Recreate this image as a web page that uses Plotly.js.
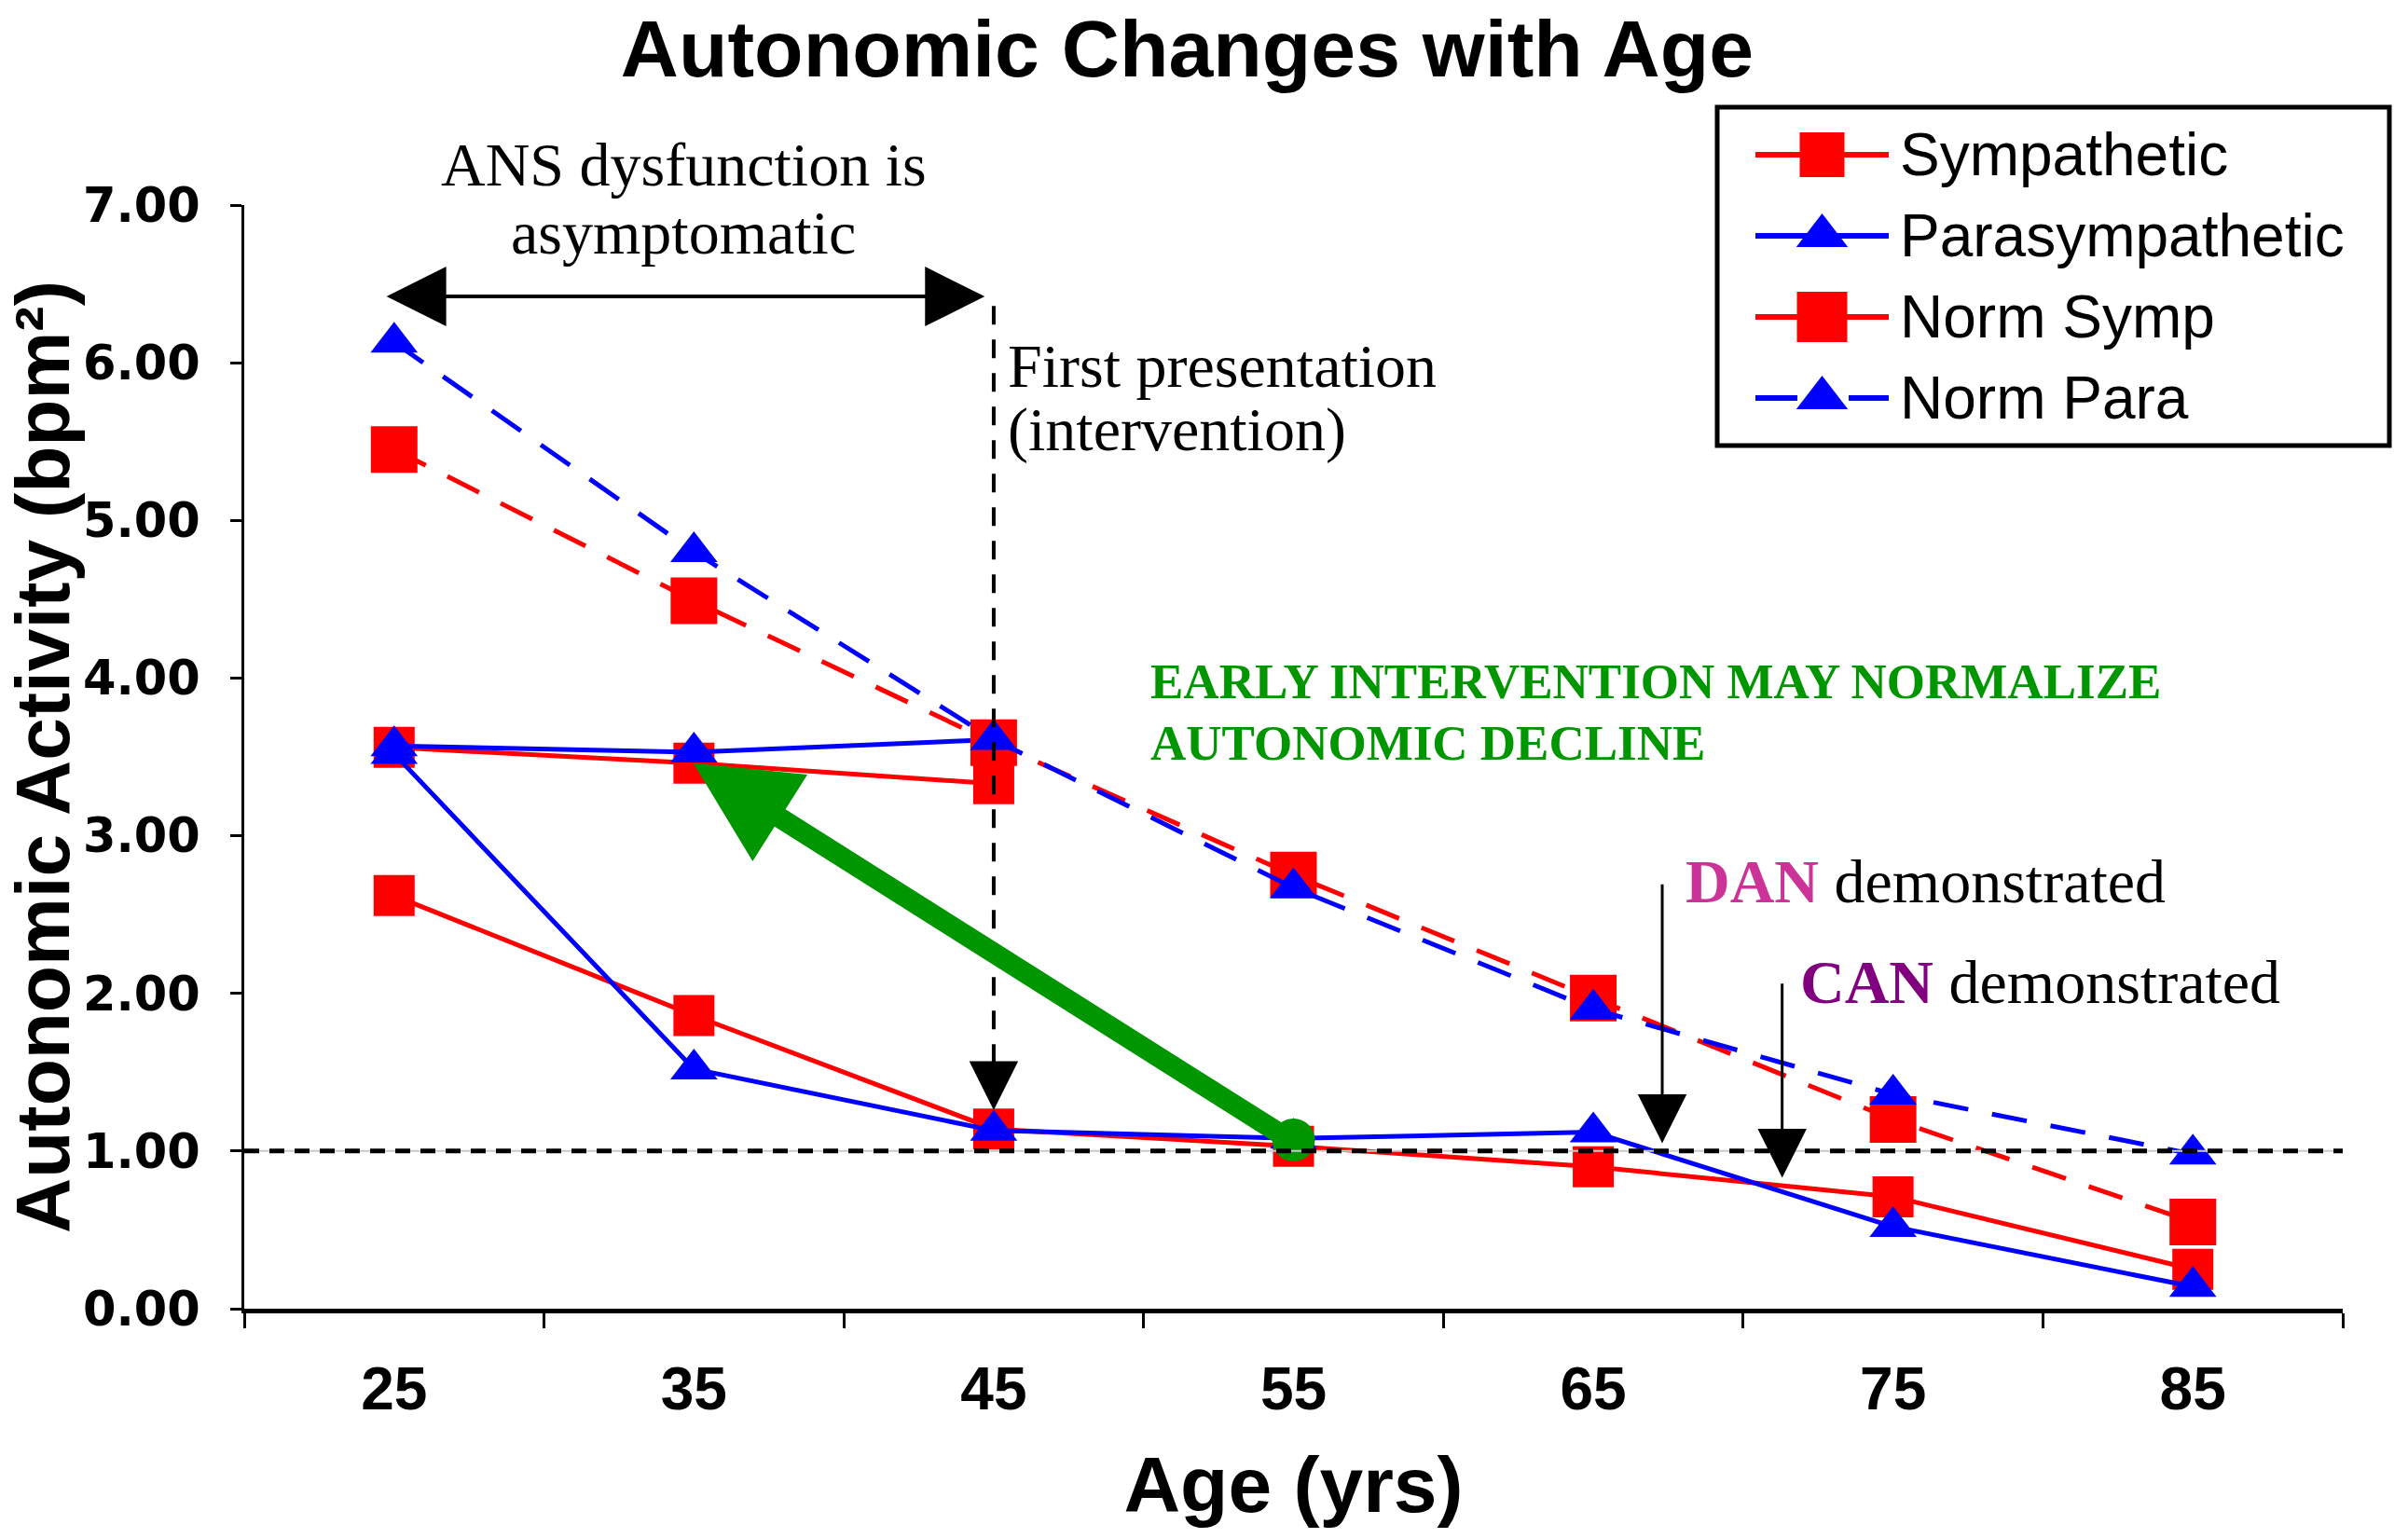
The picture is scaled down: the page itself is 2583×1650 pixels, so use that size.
<!DOCTYPE html>
<html><head><meta charset="utf-8">
<script src="https://cdn.plot.ly/plotly-3.0.1.min.js"></script>
<style>html,body{margin:0;padding:0;background:#fff}</style>
</head><body><div id="chart" style="width:2583px;height:1650px"></div>
<script>
// ---- data ----
const ages = [25, 35, 45, 55, 65, 75, 85];
const agesEarly = [25, 35, 45];
const sympEarly = [3.56, 3.46, 3.33];
const sympValues = [2.62, 1.86, 1.14, 1.03, 0.90, 0.71, 0.25];
const paraEarly = [3.57, 3.53, 3.61];
const paraValues = [3.52, 1.52, 1.13, 1.08, 1.12, 0.52, 0.14];
const normSymp = [5.45, 4.49, 3.59, 2.75, 1.97, 1.20, 0.55];
const normPara = [6.13, 4.80, 3.61, 2.67, 1.90, 1.36, 0.98];
const interventionAge = [55];
const interventionValue = [1.07];
const seriesNames = ['Sympathetic', 'Parasympathetic', 'Norm Symp', 'Norm Para'];
const xTickVals = [25, 35, 45, 55, 65, 75, 85];
const xTickText = ['25', '35', '45', '55', '65', '75', '85'];
const xTickMarks = [20, 30, 40, 50, 60, 70, 80, 90];
const yTickVals = [0, 1, 2, 3, 4, 5, 6, 7];
const yTickText = ['0.00', '1.00', '2.00', '3.00', '4.00', '5.00', '6.00', '7.00'];

// ---- styles ----
const RED = '#ff0000', BLUE = '#0000ff', GREEN = 'rgb(0,150,0)';
const SERIF = 'Liberation Serif', SANS = 'Liberation Sans';
const W = 2583, H = 1650;
const plotL = 262, plotR = 2513, plotT = 220, plotB = 1404;

const styles = [
  {color: RED, symbol: 'square', size: 44, dash: 'solid', legDash: 'solid'},
  {color: BLUE, symbol: 'triangle-up', size: 44, dash: 'solid', legDash: 'solid'},
  {color: RED, symbol: 'square', size: 50, dash: '38px,26px', legDash: 'solid'},
  {color: BLUE, symbol: 'triangle-up', size: 44, dash: '38px,26px', legDash: '45px,55px'}
];

function series(x, y, st, name) {
  return {
    x: x, y: y, type: 'scatter', mode: 'lines+markers', name: name, showlegend: false,
    line: {color: st.color, width: 5, dash: st.dash},
    marker: {symbol: st.symbol, size: st.size, color: st.color, line: {width: 0}},
    cliponaxis: false, hoverinfo: 'x+y'
  };
}

const traces = [
  series(agesEarly, sympEarly, styles[0], seriesNames[0]),
  series(ages, sympValues, styles[0], seriesNames[0]),
  series(agesEarly, paraEarly, styles[1], seriesNames[1]),
  series(ages, paraValues, styles[1], seriesNames[1]),
  series(ages, normSymp, styles[2], seriesNames[2]),
  series(ages, normPara, styles[3], seriesNames[3]),
  {x: interventionAge, y: interventionValue, type: 'scatter', mode: 'markers', showlegend: false,
   marker: {symbol: 'circle', size: 46, color: GREEN}, cliponaxis: false, hoverinfo: 'skip'}
];

// ---- custom legend (long line sample with marker in the middle) ----
const legendAnn = [];
seriesNames.forEach(function (nm, i) {
  const st = styles[i];
  traces.push({x: [0, 1], y: [i, i], xaxis: 'x2', yaxis: 'y2', type: 'scatter', mode: 'lines',
    showlegend: false, hoverinfo: 'skip', name: nm,
    line: {color: st.color, width: 6, dash: st.legDash}});
  traces.push({x: [0.5], y: [i], xaxis: 'x2', yaxis: 'y2', type: 'scatter', mode: 'markers',
    showlegend: false, hoverinfo: 'skip', name: nm,
    marker: {symbol: st.symbol, size: st.size + 4, color: st.color}});
  legendAnn.push({xref: 'paper', yref: 'y2', x: 2036 / W, y: i, xanchor: 'left', yanchor: 'middle',
    text: nm, showarrow: false, font: {family: SANS, size: 64, color: '#000'}});
});

const serifFont = {family: SERIF, size: 66, color: '#000'};
const greenFont = {family: SERIF, size: 53, color: GREEN, weight: 'bold'};
function arrow(x, y, ax, ay, w, size, color, extra) {
  return Object.assign({x: x, y: y, ax: ax, ay: ay, xref: 'x', yref: 'y', axref: 'x', ayref: 'y',
    text: '', showarrow: true, arrowhead: 2, arrowsize: size, arrowwidth: w, arrowcolor: color,
    standoff: 0, startstandoff: 0}, extra || {});
}
function label(x, y, text, font, xanchor, refs) {
  return {x: x, y: y, xref: refs ? refs[0] : 'x', yref: refs ? refs[1] : 'y', text: text, showarrow: false,
    xanchor: xanchor, yanchor: 'middle', font: font};
}

const annotations = [
  label(733 / W, 1 - 176 / H, 'ANS dysfunction is', serifFont, 'center', ['paper', 'paper']),
  label(733 / W, 1 - 250 / H, 'asymptomatic', serifFont, 'center', ['paper', 'paper']),
  arrow(44.7, 6.42, 24.7, 6.42, 4, 3.2, '#000', {arrowside: 'end+start', startarrowhead: 2, startarrowsize: 3.2}),
  label(45.41, 5.98, 'First presentation', serifFont, 'left'),
  label(45.41, 5.575, '(intervention)', serifFont, 'left'),
  arrow(45, 1.26, 45, 1.6, 3, 3.5, '#000'),
  label(50.16, 3.98, '<b>EARLY INTERVENTION MAY NORMALIZE</b>', greenFont, 'left'),
  label(50.16, 3.59, '<b>AUTONOMIC DECLINE</b>', greenFont, 'left'),
  arrow(34.98, 3.46, 54.8, 1.08, 22, 1.0, GREEN),
  arrow(67.3, 1.05, 67.3, 2.70, 3, 3.5, '#000'),
  arrow(71.3, 0.83, 71.3, 2.07, 3, 3.5, '#000'),
  label(68.0, 2.71, '<span style="color:#cc3399"><b>DAN</b></span> demonstrated', serifFont, 'left'),
  label(71.85, 2.07, '<span style="color:#800080"><b>CAN</b></span> demonstrated', serifFont, 'left')
].concat(legendAnn);

const shapes = [
  {type: 'line', xref: 'x', yref: 'y', x0: 20, x1: 90, y0: 1, y1: 1,
   line: {color: '#c8c8c8', width: 2}},
  {type: 'line', xref: 'x', yref: 'y', x0: 20, x1: 90, y0: 1, y1: 1,
   line: {color: '#000', width: 5, dash: '16px,11px'}},
  {type: 'line', xref: 'x', yref: 'y', x0: 45, x1: 45, y0: 6.36, y1: 1.45,
   line: {color: '#000', width: 4, dash: '20px,16px'}},
  {type: 'rect', xref: 'paper', yref: 'paper', x0: 1842 / W, x1: 2563 / W, y0: 1 - 478 / H, y1: 1 - 115 / H,
   line: {color: '#000', width: 5}, fillcolor: 'rgba(0,0,0,0)', layer: 'below'}
];

const layout = {
  width: W, height: H, margin: {l: 0, r: 0, t: 0, b: 0},
  paper_bgcolor: '#fff', plot_bgcolor: '#fff', showlegend: false,
  title: {text: 'Autonomic Changes with Age', x: 0.493, xanchor: 'center', y: 1 - 22 / H, yanchor: 'top',
    font: {family: SANS, size: 86, weight: 'bold', color: '#000'}},
  xaxis: {
    domain: [plotL / W, plotR / W], range: [20, 90], showgrid: false, zeroline: false,
    showline: true, linecolor: '#000', linewidth: 5,
    tickmode: 'array', tickvals: xTickVals, ticktext: xTickText, ticks: '',
    ticklabelstandoff: 26,
    tickfont: {family: SANS, size: 64, weight: 'bold', color: '#000'},
    minor: {tickmode: 'array', tickvals: xTickMarks, ticks: 'outside', ticklen: 16, tickwidth: 3, tickcolor: '#000', showgrid: false},
    title: {text: 'Age (yrs)', standoff: 40, font: {family: SANS, size: 84, weight: 'bold', color: '#000'}}
  },
  yaxis: {
    domain: [1 - plotB / H, 1 - plotT / H], range: [0, 7], showgrid: false, zeroline: false,
    showline: true, linecolor: '#000', linewidth: 3,
    tickmode: 'array', tickvals: yTickVals, ticktext: yTickText, ticks: 'outside', ticklen: 12, tickwidth: 3,
    tickcolor: '#000', ticklabelstandoff: 22,
    tickfont: {family: 'DejaVu Sans', size: 51, weight: 'bold', color: '#000'},
    title: {text: 'Autonomic Activity (bpm²)', standoff: 15, font: {family: SANS, size: 82, weight: 'bold', color: '#000'}}
  },
  xaxis2: {domain: [1883 / W, 2026 / W], range: [0, 1], visible: false, fixedrange: true, anchor: 'y2'},
  yaxis2: {domain: [1 - 470.5 / H, 1 - 122.5 / H], range: [3.5, -0.5], visible: false, fixedrange: true, anchor: 'x2'},
  annotations: annotations,
  shapes: shapes
};

Plotly.newPlot('chart', traces, layout, {staticPlot: true, displayModeBar: false});
</script></body></html>
